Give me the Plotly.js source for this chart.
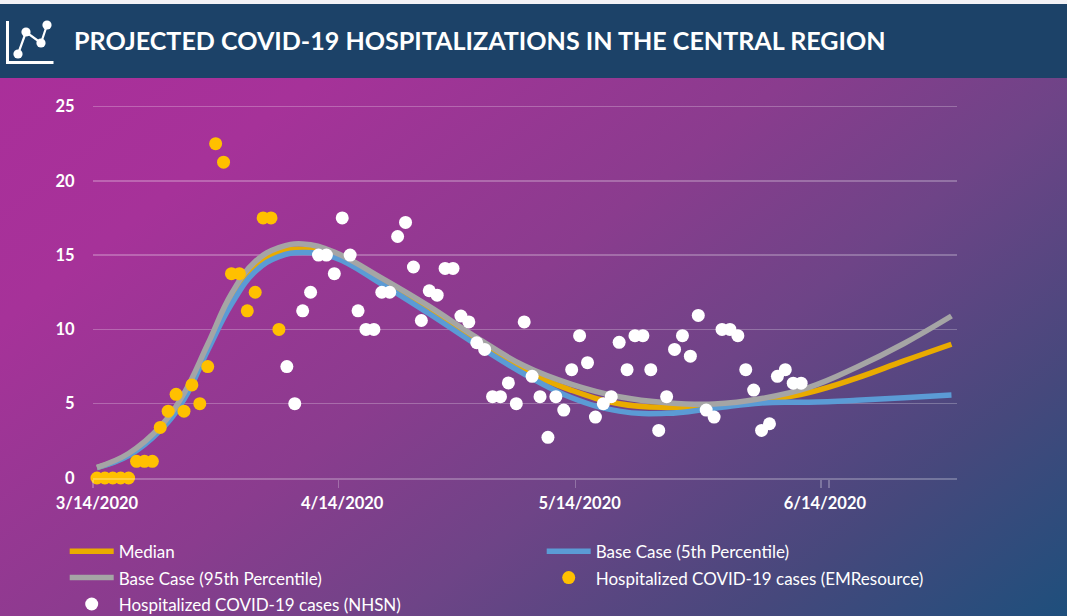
<!DOCTYPE html>
<html>
<head>
<meta charset="utf-8">
<script src="https://cdn.plot.ly/plotly-3.0.1.min.js"></script>
<style>
html,body{margin:0;padding:0;width:1067px;height:616px;overflow:hidden;background:#f2f2f6;}
#bg{position:absolute;left:0;top:78px;width:1067px;height:538px;background:linear-gradient(142deg,#aa2f9a 0%,#a63299 18%,#8a3c8e 45%,#6e4487 62%,#46487c 82%,#1e4f7c 100%);}
#head{position:absolute;left:0;top:4px;width:1067px;height:74px;background:#1c4268;}
#icon{position:absolute;left:0;top:0;}
#chart{position:absolute;left:0;top:0;width:1067px;height:616px;}
</style>
</head>
<body>
<div id="bg"></div>
<div id="head"></div>
<svg id="icon" width="70" height="78">
  <path d="M7.5 21V62.5H53.5" fill="none" stroke="#fff" stroke-width="3"/>
  <path d="M18 54L26 32L41 43L47 25" fill="none" stroke="#fff" stroke-width="2.2"/>
  <circle cx="18" cy="54" r="4.6" fill="#fff"/><circle cx="26" cy="32" r="4.6" fill="#fff"/>
  <circle cx="41" cy="43" r="4.6" fill="#fff"/><circle cx="47" cy="25" r="4.6" fill="#fff"/>
</svg>
<div id="chart"></div>
<script>
var titleText = "PROJECTED COVID-19 HOSPITALIZATIONS IN THE CENTRAL REGION";
var tickLabels = ["3/14/2020","4/14/2020","5/14/2020","6/14/2020"];

var curveDays = [0,4,8,11,14,17,20,23,26,30,36,42,48,54,60,66,72,78,84,90,96,102,108];
var medianValues = [0.7,1.55,3.3,5.5,8.8,12.1,14.3,15.2,15.4,15.0,13.25,11.2,9.15,7.25,5.9,5.0,4.75,4.85,5.2,5.75,6.72,7.88,9.0];
var p5Values = [0.7,1.5,3.2,5.3,8.6,11.7,13.9,14.9,15.17,14.85,13.05,11.05,8.95,7.0,5.4,4.5,4.35,4.7,5.05,5.1,5.23,5.4,5.58];
var p95Values = [0.72,1.65,3.45,5.7,9.0,12.4,14.56,15.5,15.75,15.2,13.45,11.55,9.45,7.55,6.3,5.47,5.07,4.98,5.35,6.1,7.45,9.05,10.9];

var emDays = [0,1,2,3,4,5,6,7,8,9,10,11,12,13,14,15,16,17,18,19,20,21,22,23];
var emValues = [0,0,0,0,0,1.12,1.12,1.12,3.4,4.5,5.63,4.5,6.26,5,7.5,22.5,21.25,13.75,13.75,11.25,12.5,17.5,17.5,10];

var nhsnDays = [24,25,26,27,28,29,30,31,32,33,34,35,36,37,38,39,40,41,42,43,44,45,46,47,48,49,50,51,52,53,54,55,56,57,58,59,60,61,62,63,64,65,66,67,68,69,70,71,72,73,74,75,76,77,78,79,80,81,82,83,84,85,86,87,88,89];
var nhsnValues = [7.5,5,11.25,12.5,15,15,13.75,17.5,15,11.25,10,10,12.5,12.5,16.25,17.2,14.2,10.6,12.6,12.3,14.1,14.1,10.9,10.5,9.1,8.65,5.47,5.47,6.4,5,10.5,6.84,5.47,2.74,5.47,4.57,7.29,9.58,7.76,4.1,5,5.47,9.13,7.29,9.58,9.58,7.29,3.2,5.47,8.65,9.58,8.2,10.94,4.57,4.1,10,10,9.58,7.29,5.92,3.2,3.65,6.84,7.29,6.38,6.38];

function label(d){
  var t = new Date(Date.UTC(2020,2,14+d));
  return (t.getUTCMonth()+1)+"/"+t.getUTCDate()+"/"+t.getUTCFullYear();
}
var categories = [];
for (var i=0;i<=108;i++) categories.push(label(i));

var leg = function(s){return '<span style="font-size:17px">'+s+'</span>';};
function curve(name,vals,color){
  return {type:"scatter",mode:"lines",name:leg(name),x:curveDays.map(label),y:vals,
    line:{color:color,width:5.5,shape:"spline",smoothing:1.2},cliponaxis:false,hoverinfo:"skip"};
}
function dots(name,days,vals,color){
  return {type:"scatter",mode:"markers",name:leg(name),x:days.map(label),y:vals,
    marker:{color:color,size:13,line:{width:0}},cliponaxis:false};
}
var traces = [
  curve("Median",medianValues,"#e9ab00"),
  curve("Base Case (5th Percentile)",p5Values,"#5b9bd5"),
  curve("Base Case (95th Percentile)",p95Values,"#a5a5a5"),
  dots("Hospitalized COVID-19 cases (EMResource)",emDays,emValues,"#ffc000"),
  dots("Hospitalized COVID-19 cases (NHSN)",nhsnDays,nhsnValues,"#ffffff")
];
var grid = "rgba(255,255,255,0.25)";
var layout = {
  width:1067,height:616,
  margin:{l:92.8,r:110,t:105,b:138,autoexpand:false},
  paper_bgcolor:"rgba(0,0,0,0)",plot_bgcolor:"rgba(0,0,0,0)",
  font:{family:"Lato, sans-serif",color:"#fff"},
  title:{text:"<b>"+titleText+"</b>",x:74/1067,xref:"container",xanchor:"left",y:1-41/616,yref:"container",yanchor:"middle",
    font:{family:"Lato, sans-serif",size:25.1,color:"#fff"}},
  xaxis:{type:"category",categoryorder:"array",categoryarray:categories,range:[-0.5,108.7],
    tickmode:"array",tickvals:tickLabels,ticktext:tickLabels.map(function(s){return "<b>"+s+"</b>";}),tickson:"boundaries",
    ticks:"outside",ticklen:8,tickwidth:1.5,tickcolor:grid,tickangle:0,showgrid:false,ticklabelstandoff:9,
    showline:true,linecolor:grid,linewidth:2,zeroline:false,tickfont:{size:16.5,color:"#fff"},automargin:false},
  yaxis:{range:[0,25.1],tickvals:[0,5,10,15,20,25],ticktext:["<b>0</b>","<b>5</b>","<b>10</b>","<b>15</b>","<b>20</b>","<b>25</b>"],
    ticks:"outside",ticklen:14,tickcolor:"rgba(0,0,0,0)",showgrid:true,gridcolor:grid,gridwidth:1.5,zeroline:false,showline:false,
    tickfont:{size:16.5,color:"#fff"},automargin:false},
  legend:{orientation:"h",x:(64.5-92.8)/864.2,xref:"paper",xanchor:"left",y:1-(533-105)/373,yref:"paper",yanchor:"top",
    entrywidth:418,entrywidthmode:"pixels",itemwidth:44,font:{size:18,color:"#fff"},bgcolor:"rgba(0,0,0,0)",itemclick:false,itemdoubleclick:false},
  showlegend:true,hovermode:"closest"
};
Plotly.newPlot("chart",traces,layout,{displayModeBar:false,staticPlot:true});
</script>
</body>
</html>
